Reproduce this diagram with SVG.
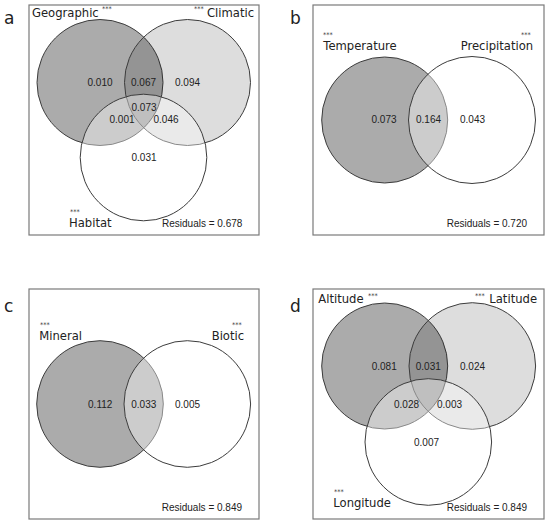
<svg xmlns="http://www.w3.org/2000/svg" width="550" height="528" viewBox="0 0 550 528">
<style>
.box{fill:none;stroke:#7a7a7a;stroke-width:1.2}
.c{stroke:#3c3c3c;stroke-width:1}
.dark{fill:#000;fill-opacity:0.33}
.light{fill:#000;fill-opacity:0.135}
.wh{fill:#fff;fill-opacity:0.4}
.lab{font-family:"DejaVu Sans",Verdana,sans-serif;font-size:11.6px;fill:#222}
.st{font-family:"DejaVu Sans",sans-serif;font-size:6.5px;fill:#222}
.num{font-family:"Liberation Sans",Arial,sans-serif;font-size:10px;fill:#222;text-anchor:middle}
.res{font-family:"Liberation Sans",Arial,sans-serif;font-size:10px;fill:#222}
.pl{font-family:"DejaVu Sans",Verdana,sans-serif;font-size:17px;fill:#222}
</style>
<rect width="550" height="528" fill="#fff"/>

<g id="panel-a">
<text class="pl" x="4" y="24">a</text>
<rect class="box" x="29" y="5" width="230" height="230"/>
<g id="a-geographic"><circle class="c dark" cx="100" cy="82.5" r="63"/><text class="lab" x="32" y="17">Geographic</text><text class="st" x="102" y="11">***</text></g>
<g id="a-climatic"><circle class="c light" cx="187.5" cy="82.5" r="63"/><text class="lab" x="207" y="17">Climatic</text><text class="st" x="194" y="11">***</text></g>
<g id="a-habitat"><circle class="c wh" cx="143.5" cy="157.5" r="63.3"/><text class="lab" x="69" y="227">Habitat</text><text class="st" x="70" y="213.5">***</text></g>
<text class="num" x="100" y="86">0.010</text>
<text class="num" x="143.5" y="86">0.067</text>
<text class="num" x="187.5" y="86">0.094</text>
<text class="num" x="144" y="111">0.073</text>
<text class="num" x="122" y="123">0.001</text>
<text class="num" x="166" y="123">0.046</text>
<text class="num" x="144" y="160.5">0.031</text>
<text class="res" x="162" y="227">Residuals = 0.678</text>
</g>

<g id="panel-b">
<text class="pl" x="290" y="24">b</text>
<rect class="box" x="313" y="5" width="231" height="230"/>
<g id="b-temperature"><circle class="c dark" cx="384.7" cy="120" r="63"/><text class="lab" x="323.3" y="50">Temperature</text><text class="st" x="323" y="36.5">***</text></g>
<g id="b-precipitation"><circle class="c wh" cx="472" cy="120" r="63.5"/><text class="lab" x="460.7" y="50">Precipitation</text><text class="st" x="521" y="36.5">***</text></g>
<text class="num" x="384" y="123.3">0.073</text>
<text class="num" x="428.5" y="123.3">0.164</text>
<text class="num" x="472.5" y="123.3">0.043</text>
<text class="res" x="446.7" y="227">Residuals = 0.720</text>
</g>

<g id="panel-c">
<text class="pl" x="4" y="312">c</text>
<rect class="box" x="29" y="289" width="230" height="230"/>
<g id="c-mineral"><circle class="c dark" cx="100" cy="404" r="63.3"/><text class="lab" x="39.3" y="340">Mineral</text><text class="st" x="40" y="326.5">***</text></g>
<g id="c-biotic"><circle class="c wh" cx="187.3" cy="404" r="63.3"/><text class="lab" x="211.7" y="340">Biotic</text><text class="st" x="232" y="326.5">***</text></g>
<text class="num" x="100.2" y="408">0.112</text>
<text class="num" x="143.8" y="408">0.033</text>
<text class="num" x="187.5" y="408">0.005</text>
<text class="res" x="161.7" y="510.7">Residuals = 0.849</text>
</g>

<g id="panel-d">
<text class="pl" x="290" y="312">d</text>
<rect class="box" x="313" y="289" width="231" height="230"/>
<g id="d-altitude"><circle class="c dark" cx="384.7" cy="366" r="63"/><text class="lab" x="318.3" y="303.3">Altitude</text><text class="st" x="368" y="297.5">***</text></g>
<g id="d-latitude"><circle class="c light" cx="472.3" cy="366" r="63.3"/><text class="lab" x="489.3" y="303.3">Latitude</text><text class="st" x="475" y="297.5">***</text></g>
<g id="d-longitude"><circle class="c wh" cx="428.3" cy="442" r="63.3"/><text class="lab" x="333.3" y="507.3">Longitude</text><text class="st" x="334" y="494">***</text></g>
<text class="num" x="384.2" y="370">0.081</text>
<text class="num" x="428.3" y="370">0.031</text>
<text class="num" x="472.5" y="370">0.024</text>
<text class="num" x="406.5" y="408">0.028</text>
<text class="num" x="449.5" y="408">0.003</text>
<text class="num" x="426.5" y="445.7">0.007</text>
<text class="res" x="446.7" y="510.7">Residuals = 0.849</text>
</g>
<g id="connectors"/>
</svg>
